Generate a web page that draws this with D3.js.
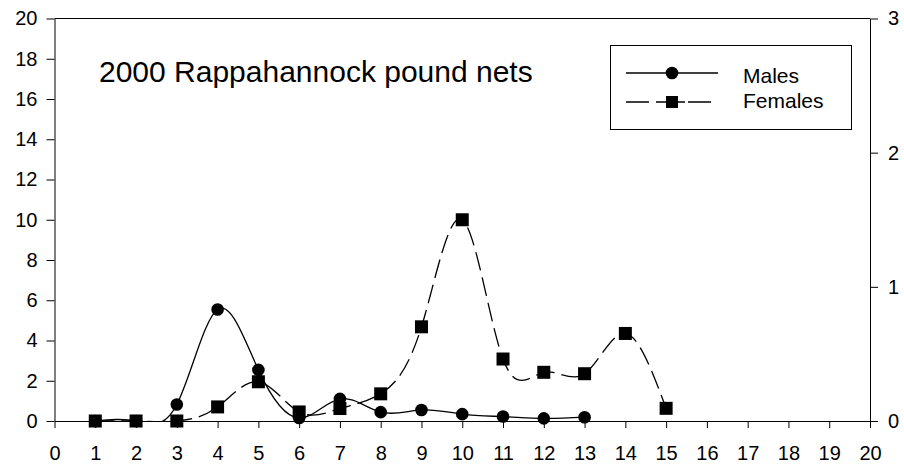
<!DOCTYPE html>
<html>
<head>
<meta charset="utf-8">
<script src="https://cdn.jsdelivr.net/npm/d3@7"></script>
<style>
  body { margin: 0; background: #fff; }
  text { font-family: "Liberation Sans", Arial, sans-serif; fill: #000; }
</style>
</head>
<body>
<div id="chart"></div>
<script>
const xs = [1, 2, 3, 4, 5, 6, 7, 8, 9, 10, 11, 12, 13, 14, 15];
const males = [0, 0, 0.82, 5.54, 2.54, 0.15, 1.1, 0.44, 0.55, 0.34, 0.22, 0.13, 0.19];
const females = [0, 0, 0, 0.7, 1.95, 0.45, 0.62, 1.35, 4.68, 10.0, 3.08, 2.42, 2.35, 4.35, 0.63];
const xTicks = d3.range(0, 21);
const yTicks = d3.range(0, 21, 2);
const y2Ticks = [0, 1, 2, 3];
const title = "2000 Rappahannock pound nets";

const W = 904, H = 468;
const margin = { top: 18.5, right: 34, bottom: 47, left: 54.5 };

const svg = d3.select("#chart").append("svg")
  .attr("width", W).attr("height", H);

const x = d3.scaleLinear().domain([0, 20]).range([margin.left, W - margin.right]);
const y = d3.scaleLinear().domain([0, 20]).range([H - margin.bottom, margin.top]);
const y2 = d3.scaleLinear().domain([0, 3]).range([H - margin.bottom, margin.top]);

svg.append("defs").append("clipPath").attr("id", "plot")
  .append("rect")
  .attr("x", x(0)).attr("y", y(20))
  .attr("width", x(20) - x(0)).attr("height", y(0) - y(20));

// frame top line
svg.append("line")
  .attr("x1", x(0)).attr("x2", x(20))
  .attr("y1", y(20)).attr("y2", y(20))
  .attr("stroke", "#000");

function styleAxis(g) {
  g.attr("font-size", 20).attr("font-family", "Liberation Sans, Arial, sans-serif");
  g.selectAll("path, line").attr("stroke", "#000");
}

svg.append("g")
  .attr("transform", `translate(${x(0)},0)`)
  .call(d3.axisLeft(y).tickValues(yTicks).tickFormat(d3.format("d"))
    .tickSize(8).tickSizeOuter(0).tickPadding(9))
  .call(styleAxis);

svg.append("g")
  .attr("transform", `translate(${x(20)},0)`)
  .call(d3.axisRight(y2).tickValues(y2Ticks).tickFormat(d3.format("d"))
    .tickSize(8).tickSizeOuter(0).tickPadding(10))
  .call(styleAxis);

svg.append("g")
  .attr("transform", `translate(0,${y(0)})`)
  .call(d3.axisBottom(x).tickValues(xTicks).tickFormat(d3.format("d"))
    .tickSize(7).tickSizeOuter(0).tickPadding(18))
  .call(styleAxis);

const line = d3.line()
  .x((d, i) => x(xs[i]))
  .y(d => y(d))
  .curve(d3.curveNatural);

const plot = svg.append("g").attr("clip-path", "url(#plot)");

plot.append("path")
  .datum(females)
  .attr("d", line)
  .attr("fill", "none")
  .attr("stroke", "#000")
  .attr("stroke-width", 1.3)
  .attr("stroke-dasharray", "19,7");

plot.append("path")
  .datum(males)
  .attr("d", line)
  .attr("fill", "none")
  .attr("stroke", "#000")
  .attr("stroke-width", 1.3);

const sq = 13;
svg.append("g").selectAll("rect")
  .data(females)
  .join("rect")
  .attr("x", (d, i) => x(xs[i]) - sq / 2)
  .attr("y", d => y(d) - sq / 2)
  .attr("width", sq).attr("height", sq)
  .attr("fill", "#000");

svg.append("g").selectAll("circle")
  .data(males)
  .join("circle")
  .attr("cx", (d, i) => x(xs[i]))
  .attr("cy", d => y(d))
  .attr("r", 6.3)
  .attr("fill", "#000");

svg.append("text")
  .attr("x", 99).attr("y", 82)
  .style("font-size", "30px")
  .text(title);

// legend
const lg = svg.append("g");
lg.append("rect")
  .attr("x", 610.5).attr("y", 45.5)
  .attr("width", 241).attr("height", 84)
  .attr("fill", "none").attr("stroke", "#000");

lg.append("line")
  .attr("x1", 626).attr("x2", 718).attr("y1", 73).attr("y2", 73)
  .attr("stroke", "#000").attr("stroke-width", 1.3);
lg.append("circle").attr("cx", 672).attr("cy", 73).attr("r", 6.3).attr("fill", "#000");
lg.append("text").attr("x", 743).attr("y", 83).style("font-size", "21px").text("Males");

lg.append("line")
  .attr("x1", 626).attr("x2", 711).attr("y1", 102).attr("y2", 102)
  .attr("stroke", "#000").attr("stroke-width", 1.3)
  .attr("stroke-dasharray", "23,7,29,3,23");
lg.append("rect").attr("x", 666).attr("y", 96).attr("width", 12).attr("height", 12).attr("fill", "#000");
lg.append("text").attr("x", 743).attr("y", 108).style("font-size", "21px").text("Females");
</script>
</body>
</html>
